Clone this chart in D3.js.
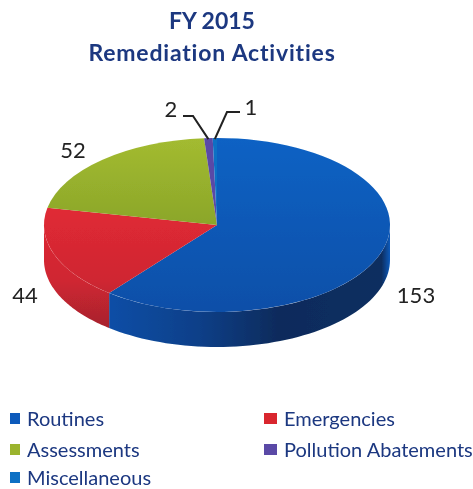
<!DOCTYPE html>
<html>
<head>
<meta charset="utf-8">
<script src="https://cdn.jsdelivr.net/npm/d3@7"></script>
<style>
html, body { margin: 0; padding: 0; background: #fff; }
svg { display: block; }
text { font-family: Lato, "Open Sans", sans-serif; }
</style>
</head>
<body>
<svg id="svg" width="473" height="489"></svg>
<script>
const categories = ['Routines', 'Emergencies', 'Assessments', 'Pollution Abatements', 'Miscellaneous'];
const values = [153, 44, 52, 2, 1];
const colors = ['#0a5abb', '#d9262f', '#9bb42e', '#5a48a6', '#0f6fc4'];
const titleLines = ['FY 2015', 'Remediation Activities'];

const svg = d3.select('#svg');
const defs = svg.append('defs');

// the reference is a soft scan
defs.append('filter').attr('id', 'soft')
    .append('feGaussianBlur').attr('stdDeviation', 0.5);

const root = svg.append('g').attr('filter', 'url(#soft)');

const cx = 217, cy = 225, rx = 173, ry = 87, depth = 35;
const squash = ry / rx;

const pie = d3.pie().sort(null);
const slices = pie(values);

const ex = a => cx + rx * Math.sin(a);
const ey = a => cy - ry * Math.cos(a);

// title
root.selectAll('.title').data(titleLines).enter().append('text')
    .attr('class', 'title')
    .attr('x', 212)
    .attr('y', (d, i) => i ? 61 : 29)
    .attr('text-anchor', 'middle')
    .attr('font-size', 23)
    .attr('font-weight', 700)
    .attr('letter-spacing', (d, i) => i ? 0.8 : 0)
    .attr('fill', '#1b3780')
    .text(d => d);

function addGradient(id, x1, y1, x2, y2, stops) {
    const g = defs.append('linearGradient').attr('id', id)
        .attr('gradientUnits', 'userSpaceOnUse')
        .attr('x1', x1).attr('y1', y1).attr('x2', x2).attr('y2', y2);
    stops.forEach(s => g.append('stop').attr('offset', s[0]).attr('stop-color', s[1]));
}

// wall shading runs across the disc, red runs top to bottom over face and wall
addGradient('wallBlue', 110, 0, 390, 0, [
    [0, '#0a4ea6'], [0.32, '#0b3f88'], [0.6, '#0c2b5c'], [0.97, '#0e2f60'], [1, '#0a5abb']
]);
const redStops = [[0, '#e02a35'], [0.6, '#cf2631'], [1, '#a5232d']];
addGradient('wallRed', 0, 208, 0, 330, redStops);
addGradient('faceRed', 0, (208 - cy) / squash, 0, (330 - cy) / squash, redStops);
addGradient('faceBlue', 0, -ry / squash, 0, ry / squash, [[0, '#0a62c4'], [1, '#0a4fa8']]);
addGradient('faceGreen', 0, -ry / squash, 0, 0, [[0, '#a3bb30'], [1, '#8ba62a']]);

const wallFill = ['url(#wallBlue)', 'url(#wallRed)', '#7d8f24', '#46388a', '#0b5aa0'];
const faceFill = ['url(#faceBlue)', 'url(#faceRed)', 'url(#faceGreen)', colors[3], colors[4]];

function sidePath(s) {
    const from = Math.max(s.startAngle, Math.PI / 2);
    const to = Math.min(s.endAngle, Math.PI * 1.5);
    if (to <= from) return null;
    const steps = d3.range(0, 61).map(i => from + (to - from) * i / 60);
    const top = steps.map(a => [ex(a), ey(a)]);
    const bottom = steps.slice().reverse().map(a => [ex(a), ey(a) + depth]);
    return d3.line()(top.concat(bottom)) + 'Z';
}

root.selectAll('.side').data(slices).enter().append('path')
    .attr('class', 'side')
    .attr('d', sidePath)
    .attr('fill', (d, i) => wallFill[i]);

// top face
const arc = d3.arc().innerRadius(0).outerRadius(rx);
const topFace = root.append('g')
    .attr('transform', 'translate(' + cx + ',' + cy + ') scale(1,' + squash + ')');

topFace.selectAll('path').data(slices).enter().append('path')
    .attr('d', arc)
    .attr('fill', (d, i) => faceFill[i]);

// value labels
const labelX = [416, 25, 73, 171, 251];
const labelY = [303, 303, 158, 117, 115];
root.selectAll('.val').data(values).enter().append('text')
    .attr('class', 'val')
    .attr('x', (d, i) => labelX[i])
    .attr('y', (d, i) => labelY[i])
    .attr('text-anchor', 'middle')
    .attr('font-size', 22)
    .attr('fill', '#222')
    .text(d => d);

// leader lines for the two thin slices
const leaders = [[3, [183, 116], [193, 116]], [4, [240, 112], [227, 112]]];
leaders.forEach(l => {
    const a = (slices[l[0]].startAngle + slices[l[0]].endAngle) / 2;
    root.append('path')
        .attr('d', d3.line()([l[1], l[2], [ex(a), ey(a) + 1]]))
        .attr('fill', 'none')
        .attr('stroke', '#222')
        .attr('stroke-width', 2);
});

// legend
const legendX = [10, 264, 10, 264, 10];
const legendY = [426, 426, 457, 457, 485];
const legend = root.selectAll('.leg').data(categories).enter().append('g')
    .attr('class', 'leg')
    .attr('transform', (d, i) => 'translate(' + legendX[i] + ',' + legendY[i] + ')');

legend.append('rect')
    .attr('x', 0).attr('y', -13)
    .attr('width', (d, i) => i % 2 ? 13 : 10)
    .attr('height', 11)
    .attr('fill', (d, i) => colors[i]);

legend.append('text')
    .attr('x', (d, i) => i % 2 ? 20 : 17)
    .attr('font-size', 20)
    .attr('fill', '#1b3780')
    .text(d => d);
</script>
</body>
</html>
